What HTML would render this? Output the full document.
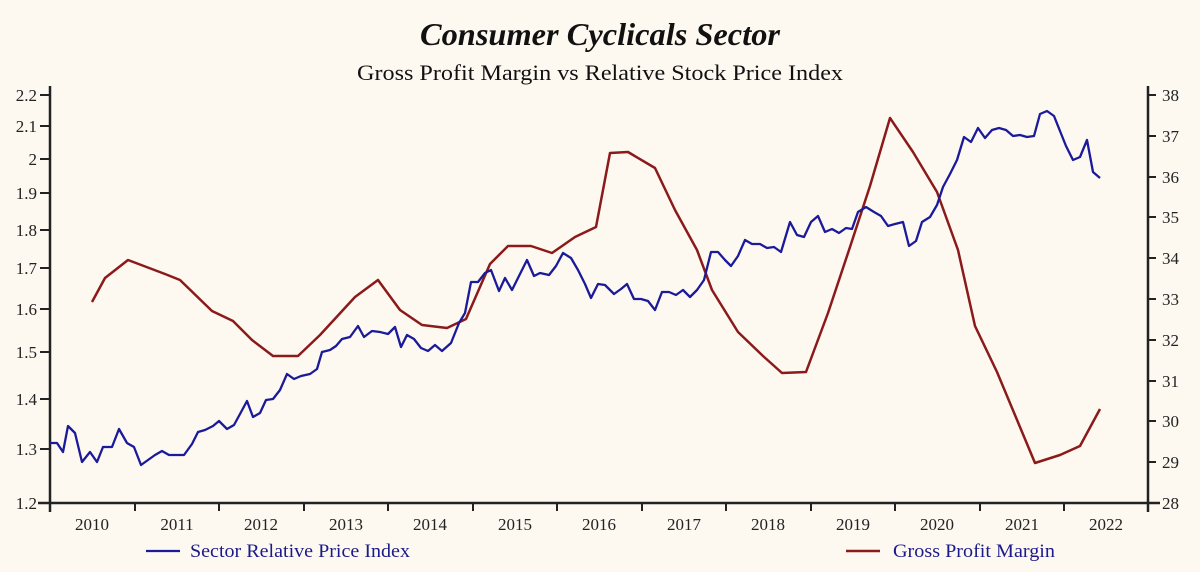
<!DOCTYPE html>
<html><head><meta charset="utf-8"><style>
html,body{margin:0;padding:0;background:#fdf9f1;}
svg{display:block;font-family:"Liberation Serif",serif;}
</style></head><body>
<svg width="1200" height="572" viewBox="0 0 1200 572" xmlns="http://www.w3.org/2000/svg">
<rect width="1200" height="572" fill="#fdf9f1"/>
<text x="600" y="45" text-anchor="middle" font-size="32" font-weight="bold" font-style="italic" textLength="360" lengthAdjust="spacingAndGlyphs" fill="#111">Consumer Cyclicals Sector</text>
<text x="600" y="80" text-anchor="middle" font-size="22" textLength="486" lengthAdjust="spacingAndGlyphs" fill="#111">Gross Profit Margin vs Relative Stock Price Index</text>
<g stroke="#222" stroke-width="2.5" fill="none">
<line x1="50" y1="86" x2="50" y2="512"/>
<line x1="1148" y1="86" x2="1148" y2="512"/>
<line x1="38" y1="503" x2="1160" y2="503"/>
</g>
<g stroke="#222" stroke-width="2">
<line x1="40" y1="95" x2="50" y2="95"/><line x1="40" y1="126" x2="50" y2="126"/><line x1="40" y1="159" x2="50" y2="159"/><line x1="40" y1="193" x2="50" y2="193"/><line x1="40" y1="230" x2="50" y2="230"/><line x1="40" y1="268" x2="50" y2="268"/><line x1="40" y1="309" x2="50" y2="309"/><line x1="40" y1="352" x2="50" y2="352"/><line x1="40" y1="399" x2="50" y2="399"/><line x1="40" y1="449" x2="50" y2="449"/>
<line x1="1148" y1="95" x2="1156" y2="95"/><line x1="1148" y1="136" x2="1156" y2="136"/><line x1="1148" y1="177" x2="1156" y2="177"/><line x1="1148" y1="217" x2="1156" y2="217"/><line x1="1148" y1="258" x2="1156" y2="258"/><line x1="1148" y1="299" x2="1156" y2="299"/><line x1="1148" y1="340" x2="1156" y2="340"/><line x1="1148" y1="381" x2="1156" y2="381"/><line x1="1148" y1="421" x2="1156" y2="421"/><line x1="1148" y1="462" x2="1156" y2="462"/>
<line x1="135" y1="503" x2="135" y2="511"/><line x1="219" y1="503" x2="219" y2="511"/><line x1="304" y1="503" x2="304" y2="511"/><line x1="388" y1="503" x2="388" y2="511"/><line x1="473" y1="503" x2="473" y2="511"/><line x1="557" y1="503" x2="557" y2="511"/><line x1="642" y1="503" x2="642" y2="511"/><line x1="726" y1="503" x2="726" y2="511"/><line x1="811" y1="503" x2="811" y2="511"/><line x1="895" y1="503" x2="895" y2="511"/><line x1="980" y1="503" x2="980" y2="511"/><line x1="1064" y1="503" x2="1064" y2="511"/>
</g>
<g font-size="17" fill="#222" text-anchor="end">
<text x="37" y="101">2.2</text><text x="37" y="132">2.1</text><text x="37" y="165">2</text><text x="37" y="199">1.9</text><text x="37" y="236">1.8</text><text x="37" y="274">1.7</text><text x="37" y="315">1.6</text><text x="37" y="358">1.5</text><text x="37" y="405">1.4</text><text x="37" y="455">1.3</text><text x="37" y="509">1.2</text>
</g>
<g font-size="17" fill="#222">
<text x="1162" y="101">38</text><text x="1162" y="142">37</text><text x="1162" y="183">36</text><text x="1162" y="223">35</text><text x="1162" y="264">34</text><text x="1162" y="305">33</text><text x="1162" y="346">32</text><text x="1162" y="387">31</text><text x="1162" y="427">30</text><text x="1162" y="468">29</text><text x="1162" y="509">28</text>
</g>
<g font-size="17" fill="#222" text-anchor="middle">
<text x="92" y="530">2010</text><text x="177" y="530">2011</text><text x="261" y="530">2012</text><text x="346" y="530">2013</text><text x="430" y="530">2014</text><text x="515" y="530">2015</text><text x="599" y="530">2016</text><text x="684" y="530">2017</text><text x="768" y="530">2018</text><text x="853" y="530">2019</text><text x="937" y="530">2020</text><text x="1022" y="530">2021</text><text x="1106" y="530">2022</text>
</g>
<polyline fill="none" stroke="#8b1a1a" stroke-width="2.5" stroke-linejoin="round" points="92,302 105,278 128,260 165,274 180,280 212,311 233,321 252,340 273,356 298,356 320,335 355,297 378,280 400,310 422,325 447,328 466,319 490,264 508,246 531,246 552,253 575,237 596,227 610,153 628,152 655,168 675,210 697,250 712,290 738,332 763,356 782,373 806,372 828,313 850,247 870,186 890,118 913,152 937,192 958,250 975,326 997,372 1035,463 1060,455 1080,446 1100,409"/>
<polyline fill="none" stroke="#1a1a9a" stroke-width="2.3" stroke-linejoin="round" points="50,443 57,443 63,452 68,426 75,433 82,462 90,452 97,462 103,447 112,447 119,429 127,443 134,447 141,465 148,460 155,455 162,451 169,455 177,455 184,455 192,444 198,432 205,430 213,426 219,421 227,429 234,425 240,414 247,401 253,417 260,413 266,400 273,399 280,390 287,374 294,379 301,376 310,374 317,369 322,352 330,350 336,346 342,339 350,337 358,326 364,337 372,331 380,332 388,334 395,327 401,347 407,335 414,339 421,348 428,351 435,345 442,351 451,343 459,323 465,313 471,282 478,282 485,273 491,270 499,291 505,278 512,290 518,278 527,260 534,276 540,273 549,275 556,266 563,253 571,258 578,270 585,284 591,298 598,284 605,285 614,294 621,289 627,284 634,299 641,299 648,301 655,310 662,292 669,292 676,295 683,290 690,297 697,290 704,280 711,252 718,252 725,260 731,266 738,256 745,240 752,244 760,244 767,248 774,247 781,252 790,222 797,235 804,237 811,222 818,216 825,232 832,229 839,233 846,228 852,229 858,212 866,207 874,212 881,216 888,226 895,224 903,222 909,246 916,241 922,222 930,217 937,205 943,187 950,174 957,160 964,137 971,142 978,128 985,138 992,130 999,128 1006,130 1013,136 1020,135 1027,137 1034,136 1040,114 1047,111 1054,116 1060,131 1066,146 1073,160 1080,157 1087,140 1093,172 1100,178"/>
<line x1="146" y1="551" x2="180" y2="551" stroke="#1a1a9a" stroke-width="2.3"/>
<text x="190" y="557" font-size="19" fill="#1a1a8a" textLength="220" lengthAdjust="spacingAndGlyphs">Sector Relative Price Index</text>
<line x1="846" y1="551" x2="880" y2="551" stroke="#8b1a1a" stroke-width="2.5"/>
<text x="893" y="557" font-size="19" fill="#1a1a8a" textLength="162" lengthAdjust="spacingAndGlyphs">Gross Profit Margin</text>
</svg>
</body></html>
